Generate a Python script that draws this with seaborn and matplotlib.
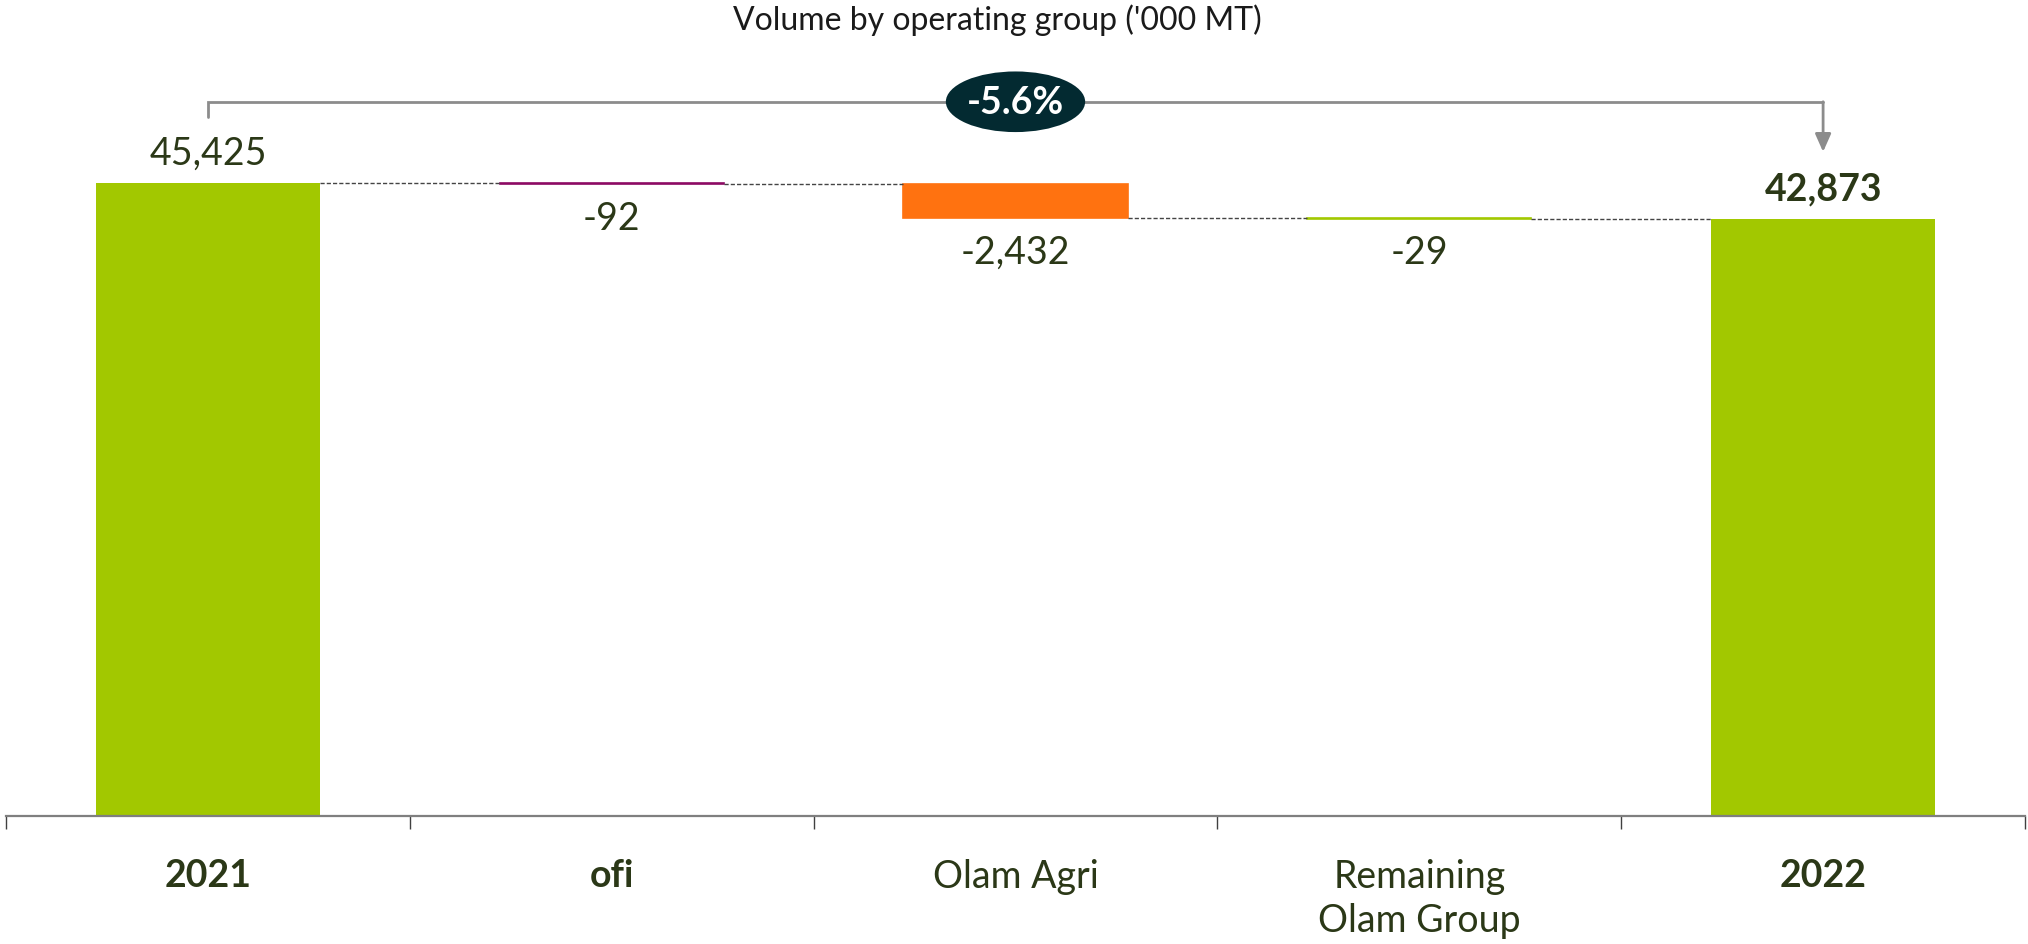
import numpy as np
import pandas as pd
import matplotlib
matplotlib.use("Agg")
import matplotlib.pyplot as plt
from matplotlib.patches import Ellipse
import seaborn as sns

# data
categories = ["2021", "ofi", "Olam Agri", "Remaining\nOlam Group", "2022"]
values = [45425, -92, -2432, -29, 42873]
is_total = [True, False, False, False, True]
bold_ticks = [True, True, False, False, True]
bar_colors = ["#A2C800", "#8C0A64", "#FF7210", "#A2C800", "#A2C800"]
change_label = "-5.6%"
title = "Volume by operating group ('000 MT)"

TXT = "#2B3817"

# waterfall bases
bottoms, heights, running = [], [], 0
for v, tot in zip(values, is_total):
    if tot:
        bottoms.append(0)
        heights.append(v)
        running = v
    else:
        bottoms.append(running)
        heights.append(v)
        running += v
ends = [b + h for b, h in zip(bottoms, heights)]

df = pd.DataFrame({"cat": categories, "height": heights, "bottom": bottoms})

sns.set_theme(style="white")
plt.rcParams["font.family"] = ["Lato", "DejaVu Sans"]

fig = plt.figure(figsize=(20.28, 9.45), dpi=100)
ax = fig.add_axes([6 / 2028, 128 / 945, 2019 / 2028, 817 / 945])

bw = 0.555
sns.barplot(data=df, x="cat", y="height", bottom=df["bottom"].values, order=categories,
            width=bw, errorbar=None, ax=ax, color=bar_colors[0], linewidth=0)
for p, c, tot in zip(ax.patches, bar_colors, is_total):
    p.set_facecolor(c)
    if not tot:
        p.set_edgecolor(c)
        p.set_linewidth(1.2)

ax.set_xlim(-0.5, len(categories) - 0.5)
ax.set_ylim(0, 58630)

# connectors
for i in range(len(categories) - 1):
    ax.plot([i + bw / 2, i + 1 - bw / 2], [ends[i], ends[i]], color="#444444",
            lw=1.0, ls=(0, (3, 1.5)), zorder=1)

# value labels
for i, (v, tot) in enumerate(zip(values, is_total)):
    txt = f"{v:,}"
    if tot:
        ax.annotate(txt, (i, ends[i]), xytext=(0, 22), textcoords="offset points",
                    ha="center", va="center", fontsize=27, color=TXT,
                    fontweight="bold" if i == len(values) - 1 else "normal")
    else:
        ax.annotate(txt, (i, min(bottoms[i], ends[i])), xytext=(0, -24),
                    textcoords="offset points", ha="center", va="center",
                    fontsize=27, color=TXT)

# bracket with change
y_br = max(values) + 5830
y_left = values[0] + 4750
y_tip = values[-1] + 4790
last = len(categories) - 1
ax.plot([0, 0, last, last], [y_left, y_br, y_br, y_br], color="#8C8C8C", lw=2, zorder=3,
        solid_joinstyle="miter", clip_on=False)
ax.annotate("", xy=(last, y_tip), xytext=(last, y_br),
            arrowprops=dict(arrowstyle="-|>,head_length=0.9,head_width=0.4", color="#8C8C8C",
                            lw=2, shrinkA=0, shrinkB=0), zorder=3)
ax.add_patch(Ellipse((last / 2, y_br), 0.345, 4350, facecolor="#032A31", edgecolor="none",
                     zorder=4, clip_on=False))
ax.text(last / 2, y_br, change_label, ha="center", va="center", fontsize=27,
        fontweight="bold", color="white", zorder=5)

# axes styling
for s in ["top", "right", "left"]:
    ax.spines[s].set_visible(False)
ax.spines["bottom"].set_color("#7F7F7F")
ax.spines["bottom"].set_linewidth(1.6)
ax.set_yticks([])
ax.set_xlabel("")
ax.set_ylabel("")
ax.set_xticks(range(len(categories)))
ax.set_xticklabels(categories)
ax.set_xticks(np.arange(-0.5, len(categories)), minor=True)
ax.tick_params(axis="x", which="major", bottom=True, length=0, pad=30, labelsize=27, colors=TXT)
ax.tick_params(axis="x", which="minor", bottom=True, length=9, width=1, color="#404040",
               direction="out")
for lbl, b in zip(ax.get_xticklabels(), bold_ticks):
    lbl.set_fontweight("bold" if b else "normal")
    lbl.set_color(TXT)
    lbl.set_linespacing(1.3)

fig.text(997 / 2028, 1 - 20 / 945, title, ha="center", va="center", fontsize=23, color="#1A1A1A")

fig.savefig("out.png", dpi=100)
